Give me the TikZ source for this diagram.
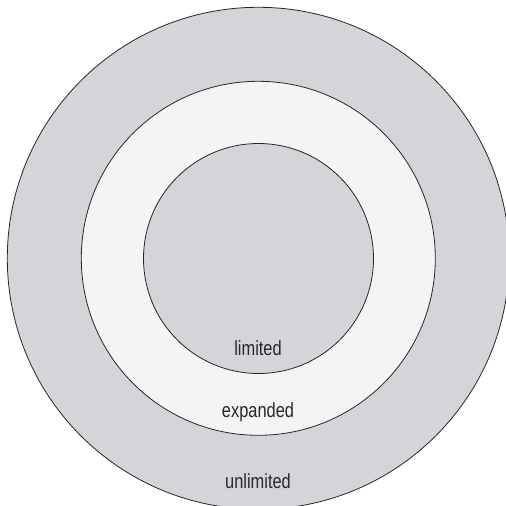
\documentclass[tikz,border=0pt]{standalone}
\usepackage{fontspec}
\setmainfont[FakeStretch=0.8]{Liberation Sans}
\definecolor{ringgray}{RGB}{212,213,216}
\definecolor{ringlight}{RGB}{244,244,244}
\definecolor{txt}{RGB}{40,40,40}
\begin{document}
\begin{tikzpicture}[x=1pt,y=-1pt,
  ring/.style={circle,draw=black!85,line width=0.8pt,inner sep=0pt},
  lbl/.style={text=txt,font=\fontsize{20.5}{20.5}\selectfont,inner sep=0pt}]
\useasboundingbox (0,0) rectangle (506,506);
\clip (0,0) rectangle (506,506);
\fill[white] (0,0) rectangle (506,506);
\node[ring,fill=ringgray,minimum size=502pt] (outer) at (258.3,258.3) {};
\node[ring,fill=ringlight,minimum size=354pt] (middle) at (258.3,258.3) {};
\node[ring,fill=ringgray,minimum size=230pt] (inner) at (258.5,258.5) {};
\node[lbl] (limited) at (258,348) {limited};
\node[lbl] (expanded) at (258,412) {expanded};
\node[lbl] (unlimited) at (258,481) {unlimited};
\end{tikzpicture}
\end{document}
